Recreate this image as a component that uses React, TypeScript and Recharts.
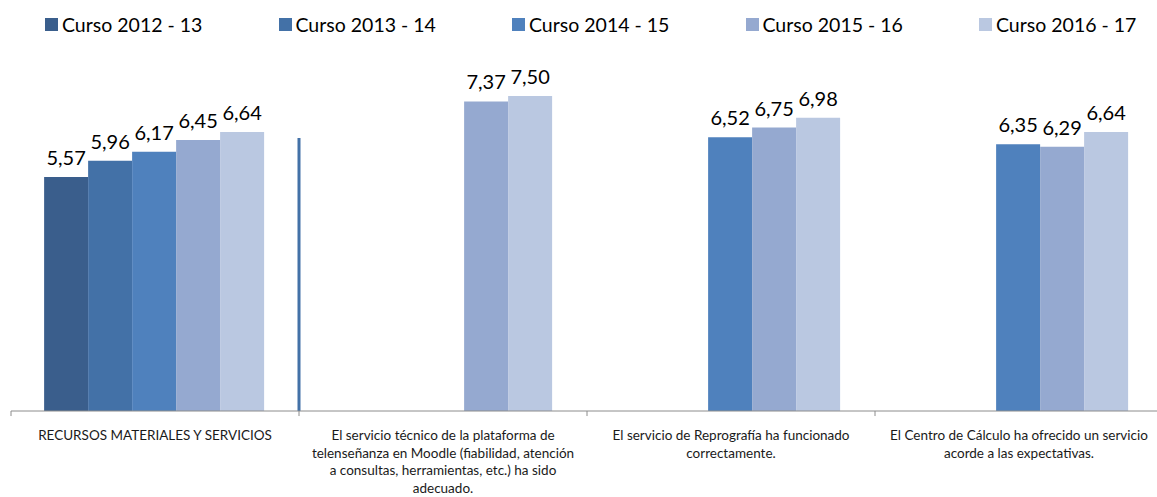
import React from 'react';
import { BarChart, Bar, XAxis, YAxis, LabelList, ReferenceLine } from 'recharts';

const categoryLines: string[][] = [
  ['RECURSOS MATERIALES Y SERVICIOS'],
  ['El servicio técnico de la plataforma de', 'telenseñanza en Moodle (fiabilidad, atención', 'a consultas, herramientas, etc.) ha sido', 'adecuado.'],
  ['El servicio de Reprografía ha funcionado', 'correctamente.'],
  ['El Centro de Cálculo ha ofrecido un servicio', 'acorde a las expectativas.'],
];
const categories = categoryLines.map((l) => l.join(' '));

const seriesNames = ['Curso 2012 - 13', 'Curso 2013 - 14', 'Curso 2014 - 15', 'Curso 2015 - 16', 'Curso 2016 - 17'];
const seriesColors = ['#3A5E8C', '#4371A7', '#4F81BD', '#95A9D0', '#BAC8E1'];

const curso1213 = [5.57, null, null, null];
const curso1314 = [5.96, null, null, null];
const curso1415 = [6.17, null, 6.52, 6.35];
const curso1516 = [6.45, 7.37, 6.75, 6.29];
const curso1617 = [6.64, 7.5, 6.98, 6.64];
const seriesValues = [curso1213, curso1314, curso1415, curso1516, curso1617];

// stray vertical line seen at the start of the second category (2013-14 colour)
const strayLineValue = 6.5;

const data = categories.map((name, i) => {
  const row: Record<string, any> = { name, idx: i };
  seriesNames.forEach((s, j) => {
    row[s] = seriesValues[j][i];
  });
  return row;
});

const FONT = 'Lato, "Open Sans", sans-serif';

const fmt = (v: any) => (v == null ? '' : Number(v).toFixed(2).replace('.', ','));

const Tick = (props: any) => {
  const { x, y, payload } = props;
  const idx = categories.indexOf(payload.value);
  const lines = categoryLines[idx] || [payload.value];
  return (
    <text x={x} y={y} textAnchor="middle" fill="#1a1a1a" fontSize={13.5} fontFamily={FONT}>
      {lines.map((l, i) => (
        <tspan key={i} x={x} y={y + 21 + i * 17.7}>
          {l}
        </tspan>
      ))}
    </text>
  );
};

export default function App() {
  return (
    <div style={{ position: 'absolute', left: 0, top: 0, width: 1157, height: 497, overflow: 'hidden', background: '#fff', fontFamily: FONT }}>
      <div style={{ position: 'absolute', left: 0, top: 10, height: 28, display: 'flex', alignItems: 'center' }}>
        {seriesNames.map((s, i) => (
          <div key={s} style={{ position: 'absolute', left: 45 + i * 233.5, display: 'flex', alignItems: 'center', whiteSpace: 'nowrap' }}>
            <span style={{ display: 'inline-block', width: 13, height: 13, background: seriesColors[i], marginRight: 4 }} />
            <span style={{ fontSize: 19.5, color: '#000' }}>{s}</span>
          </div>
        ))}
      </div>
      <div style={{ position: 'absolute', left: 0, top: 0 }}>
        <BarChart
          width={1165}
          height={497}
          data={data}
          margin={{ top: 33, right: 2, bottom: 6, left: 11 }}
          barCategoryGap="11.5%"
          barGap={0}
        >
          <XAxis
            dataKey="name"
            interval={0}
            tickLine={false}
            axisLine={{ stroke: '#8C8C8C', strokeWidth: 1 }}
            tick={<Tick />}
            height={80}
          />
          <YAxis hide domain={[0, 9]} />
          {seriesNames.map((s, i) => (
            <Bar key={s} dataKey={s} fill={seriesColors[i]} isAnimationActive={false}>
              <LabelList
                dataKey={s}
                position="top"
                offset={12}
                formatter={fmt}
                style={{ fontSize: 20, fill: '#000', fontFamily: FONT }}
              />
            </Bar>
          ))}
          {categories.map((c) => (
            <ReferenceLine
              key={c}
              segment={[{ x: c, y: 0 }, { x: c, y: -0.12 }]}
              position="start"
              ifOverflow="visible"
              stroke="#8C8C8C"
              strokeWidth={1}
            />
          ))}
          <ReferenceLine
            segment={[{ x: categories[1], y: 0 }, { x: categories[1], y: strayLineValue }]}
            position="start"
            ifOverflow="visible"
            stroke={seriesColors[1]}
            strokeWidth={3}
          />
        </BarChart>
      </div>
    </div>
  );
}
